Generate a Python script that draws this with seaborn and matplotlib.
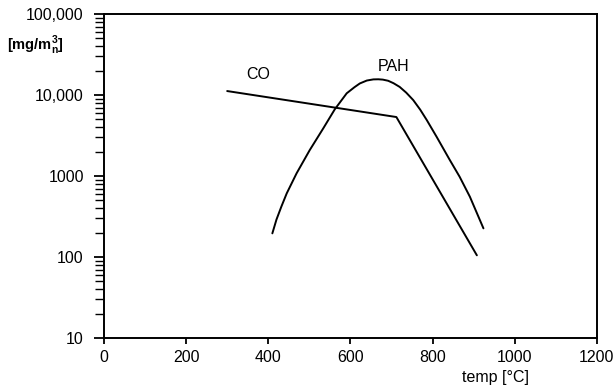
import matplotlib
matplotlib.use("Agg")
import matplotlib.pyplot as plt
import matplotlib.ticker as mticker
import seaborn as sns
import pandas as pd
import numpy as np

sns.set_style("ticks")
plt.rcParams['font.family'] = ['Liberation Sans', 'DejaVu Sans']
plt.rcParams['text.color'] = 'black'
plt.rcParams['mathtext.fontset'] = 'custom'
plt.rcParams['mathtext.rm'] = 'Liberation Sans'
plt.rcParams['mathtext.bf'] = 'Liberation Sans:bold'

co_temp = [300, 712, 908]
co_val = [11200, 5350, 105]

pah_temp = [410, 420, 432, 445, 469, 501, 534, 562, 591, 610, 623, 640, 656, 668, 679, 692, 705, 720,
            736, 753, 770, 786, 810, 842, 866, 891, 924]
pah_val = [196, 290, 420, 611, 1080, 2090, 3880, 6660, 10500, 12500, 13900, 15100, 15600, 15650, 15500,
           15000, 14000, 12600, 10700, 8670, 6600, 4910, 3050, 1580, 980, 555, 226]

y_ticks = [10, 100, 1000, 10000, 100000]
y_labels = ["10", "100", "1000", "10,000", "100,000"]
x_ticks = [0, 200, 400, 600, 800, 1000, 1200]

co_df = pd.DataFrame({"temp": co_temp, "val": co_val})
pah_df = pd.DataFrame({"temp": pah_temp, "val": pah_val})

fig = plt.figure(figsize=(6.16, 3.9), dpi=100)
ax = fig.add_axes([0.1688, 0.1333, 0.8, 0.8307])

sns.lineplot(data=co_df, x="temp", y="val", sort=False, color="black", lw=1.4, ax=ax)
sns.lineplot(data=pah_df, x="temp", y="val", sort=False, color="black", lw=1.4, ax=ax)
for ln in ax.lines:
    ln.set_solid_joinstyle("round")

ax.set_yscale("log")
ax.set_xlim(0, 1200)
ax.set_ylim(10, 100000)
ax.yaxis.set_major_locator(mticker.FixedLocator(y_ticks))
ax.set_yticklabels(y_labels)
ax.yaxis.set_minor_locator(mticker.LogLocator(base=10, subs=np.arange(2, 10)))
ax.yaxis.set_minor_formatter(mticker.NullFormatter())
ax.set_xticks(x_ticks)
ax.set_xticklabels([str(t) for t in x_ticks])
ax.tick_params(axis="both", which="major", direction="out", width=1.3,
               labelsize=11.5, colors="black")
ax.tick_params(axis="y", which="major", length=7.5, pad=7)
ax.tick_params(axis="x", which="major", length=4.5, pad=4)
ax.tick_params(axis="y", which="minor", direction="out", length=6.5, width=1.0, colors="black")
for s in ax.spines.values():
    s.set_linewidth(1.4)
    s.set_color("black")
ax.set_xlabel("")
ax.set_ylabel("")

ax.text(375, 17700, "CO", fontsize=11.5, ha="center", va="center", color="black")
ax.text(706, 22200, "PAH", fontsize=11.5, ha="center", va="center", color="black")
ax.text(954, -0.122, "temp [°C]", fontsize=11.5, ha="center", va="center", color="black",
        transform=ax.get_xaxis_transform())
fig.text(0.058, 0.885, r"[mg/m$_\mathbf{n}^\mathbf{3}$]", fontsize=10.5, fontweight="bold",
         ha="center", va="center", color="black")

fig.savefig("out.png", dpi=100)
